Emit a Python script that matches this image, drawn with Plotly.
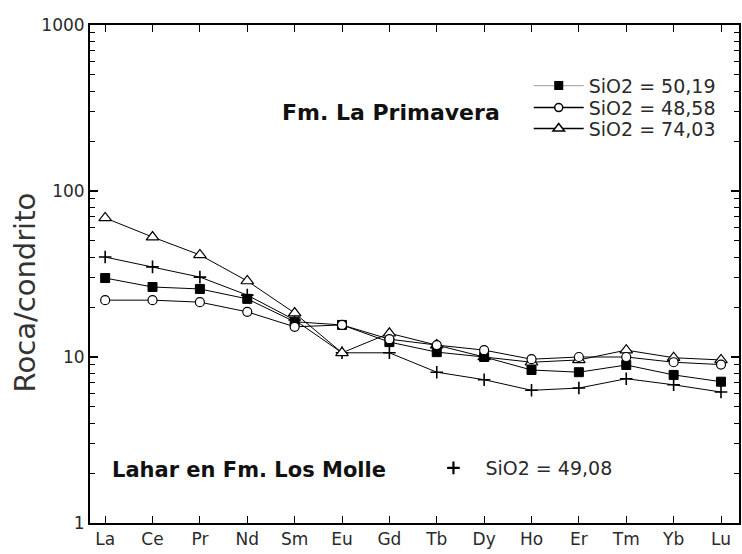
import plotly.graph_objects as go

elements = ["La", "Ce", "Pr", "Nd", "Sm", "Eu", "Gd", "Tb", "Dy", "Ho", "Er", "Tm", "Yb", "Lu"]

sq_5019 = [29.9, 26.4, 25.7, 22.4, 16.3, 15.6, 12.3, 10.7, 10.0, 8.35, 8.1, 8.95, 7.8, 7.1]
ci_4858 = [22.0, 22.0, 21.4, 18.7, 15.2, 15.6, 12.8, 11.8, 11.0, 9.7, 10.0, 10.0, 9.3, 9.0]
tr_7403 = [68.8, 52.8, 41.2, 28.7, 18.4, 10.6, 13.9, 11.8, 10.0, 9.3, 9.6, 11.0, 9.9, 9.6]
pl_4908 = [40.0, 34.9, 30.3, 23.6, 16.7, 10.6, 10.6, 8.1, 7.3, 6.3, 6.5, 7.4, 6.8, 6.15]

names = ["SiO2 = 50,19", "SiO2 = 48,58", "SiO2 = 74,03", "SiO2 = 49,08"]

FONT = "DejaVu Sans, Liberation Sans, Arial, sans-serif"
TXT = "#2a2a2a"

fig = go.Figure()

fig.add_trace(go.Scatter(
    x=elements, y=pl_4908, mode="lines+markers", showlegend=False,
    line=dict(color="black", width=1),
    marker=dict(symbol="cross-thin", size=9, line=dict(color="black", width=1.6)),
))
fig.add_trace(go.Scatter(
    x=elements, y=tr_7403, mode="lines+markers", showlegend=False,
    line=dict(color="black", width=1),
    marker=dict(symbol="triangle-up", size=11, color="white", line=dict(color="black", width=1.2)),
))
fig.add_trace(go.Scatter(
    x=elements, y=sq_5019, mode="lines+markers", showlegend=False,
    line=dict(color="black", width=1),
    marker=dict(symbol="square", size=9, color="black", line=dict(color="black", width=1)),
))
fig.add_trace(go.Scatter(
    x=elements, y=ci_4858, mode="lines+markers", showlegend=False,
    line=dict(color="black", width=1),
    marker=dict(symbol="circle", size=9, color="white", line=dict(color="black", width=1.2)),
))

fig.add_trace(go.Scatter(
    x=[None], y=[None], mode="lines+markers", name=names[0], legend="legend",
    line=dict(color="#b0b0b0", width=1.2),
    marker=dict(symbol="square", size=9, color="black"),
))
fig.add_trace(go.Scatter(
    x=[None], y=[None], mode="lines+markers", name=names[1], legend="legend3",
    line=dict(color="black", width=1.5),
    marker=dict(symbol="circle", size=8, color="white", line=dict(color="black", width=1.5)),
))
fig.add_trace(go.Scatter(
    x=[None], y=[None], mode="lines+markers", name=names[2], legend="legend4",
    line=dict(color="black", width=1.5),
    marker=dict(symbol="triangle-up", size=10, color="white", line=dict(color="black", width=1.5)),
))
fig.add_trace(go.Scatter(
    x=[None], y=[None], mode="markers", name=names[3], legend="legend2",
    marker=dict(symbol="cross-thin", size=9, line=dict(color="black", width=2.2)),
))

leg_common = dict(xanchor="left", yanchor="middle", bgcolor="rgba(0,0,0,0)", borderwidth=0,
                  font=dict(family=FONT, size=19, color=TXT))

fig.update_layout(
    width=742, height=554,
    margin=dict(l=90, r=1, t=25, b=31),
    paper_bgcolor="white", plot_bgcolor="white",
    font=dict(family=FONT, color=TXT, size=17),
    legend=dict(x=0.676, y=0.878, itemwidth=50, **leg_common),
    legend3=dict(x=0.676, y=0.834, itemwidth=50, **leg_common),
    legend4=dict(x=0.676, y=0.792, itemwidth=50, **leg_common),
    legend2=dict(x=0.5107, y=0.1104, itemwidth=54, **leg_common),
    xaxis=dict(
        type="category", range=[-0.32, 13.38],
        showline=True, linecolor="black", linewidth=2, mirror="ticks",
        ticks="inside", ticklen=7, tickcolor="black", tickwidth=1,
        showgrid=False, zeroline=False,
        tickfont=dict(family=FONT, size=17, color=TXT),
    ),
    yaxis=dict(
        type="log", range=[0, 3],
        tickmode="linear", tick0=0, dtick=1, exponentformat="none",
        showline=True, linecolor="black", linewidth=2, mirror="ticks",
        ticks="inside", ticklen=8, tickcolor="black", tickwidth=1.5,
        minor=dict(ticks="inside", ticklen=5, tickcolor="black", tickwidth=1, dtick="D1", showgrid=False),
        showgrid=False, zeroline=False,
        tickfont=dict(family=FONT, size=17, color=TXT),
    ),
    annotations=[
        dict(text="Roca/condrito", xref="paper", yref="paper", x=-0.101, y=0.464,
             xanchor="center", yanchor="middle",
             textangle=-90, showarrow=False, font=dict(family=FONT, size=29, color="#333")),
        dict(text="<b>Fm. La Primavera</b>", xref="paper", yref="paper", x=0.464, y=0.825,
             xanchor="center", yanchor="middle",
             showarrow=False, font=dict(family=FONT, size=22, color="#111")),
        dict(text="<b>Lahar en Fm. Los Molle</b>", xref="paper", yref="paper", x=0.0307, y=0.1064,
             xanchor="left", yanchor="middle", showarrow=False, font=dict(family=FONT, size=21, color="#111")),
    ],
)

fig.write_html("out.html")
